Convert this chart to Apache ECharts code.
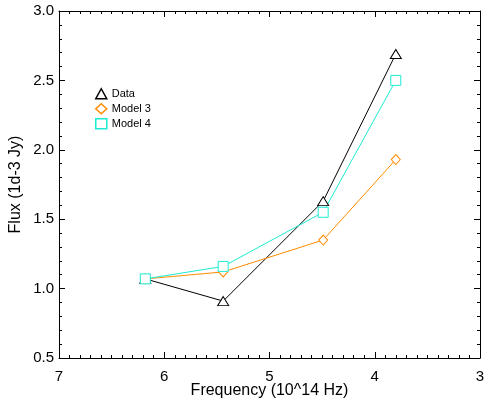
<!DOCTYPE html>
<html>
<head>
<meta charset="utf-8">
<script src="https://cdn.jsdelivr.net/npm/echarts@6/dist/echarts.min.js"></script>
<style>
  html, body { margin: 0; padding: 0; background: #fff; }
  #main { width: 486px; height: 401px; }
</style>
</head>
<body>
<div id="main"></div>
<script>
// frequencies (10^14 Hz)
const freq = [6.18, 5.44, 4.49, 3.80];
const fluxData = [1.07, 0.91, 1.63, 2.69];
const fluxModel3 = [1.07, 1.12, 1.35, 1.93];
const fluxModel4 = [1.07, 1.16, 1.55, 2.50];

const FONT = 'Liberation Sans, Arial, Helvetica, sans-serif';
const cData = '#000000';
const cM3 = '#ff8c00';
const cM4 = '#1cecd2';

function pairs(ys) {
  return freq.map((f, i) => [f, ys[i]]);
}

function mkSeries(name, ys, color, symbol, size) {
  return {
    name: name,
    type: 'line',
    data: pairs(ys),
    symbol: symbol,
    symbolSize: size,
    showSymbol: true,
    lineStyle: { color: color, width: 1 },
    itemStyle: { color: '#fff', borderColor: color, borderWidth: 1 },
    emphasis: { disabled: true },
    animation: false
  };
}

const xBase = {
  type: 'value', min: 3, max: 7, interval: 1, inverse: true,
  axisLine: { show: true, lineStyle: { color: '#000', width: 1 } },
  axisTick: { show: true, inside: true, length: 6, lineStyle: { color: '#000' } },
  minorTick: { show: true, splitNumber: 10, length: 3, lineStyle: { color: '#000' } },
  splitLine: { show: false },
  minorSplitLine: { show: false }
};
const yBase = {
  type: 'value', min: 0.5, max: 3.0, interval: 0.5,
  axisLine: { show: true, lineStyle: { color: '#000', width: 1 } },
  axisTick: { show: true, inside: true, length: 6, lineStyle: { color: '#000' } },
  minorTick: { show: true, splitNumber: 5, length: 3, lineStyle: { color: '#000' } },
  splitLine: { show: false },
  minorSplitLine: { show: false }
};

const chart = echarts.init(document.getElementById('main'));
chart.setOption({
  backgroundColor: '#fff',
  textStyle: { fontFamily: FONT },
  grid: { left: 59, right: 6, top: 11, bottom: 43, outerBoundsMode: 'none', containLabel: false },
  xAxis: [
    Object.assign({}, xBase, {
      position: 'bottom',
      name: 'Frequency (10^14 Hz)',
      nameLocation: 'middle',
      nameGap: 25,
      nameMoveOverlap: false,
      nameTextStyle: { fontSize: 16, color: '#000', fontFamily: FONT },
      axisLabel: { show: true, fontSize: 15, color: '#000', margin: 11, fontFamily: FONT }
    }),
    Object.assign({}, xBase, { position: 'top', axisLabel: { show: false } })
  ],
  yAxis: [
    Object.assign({}, yBase, {
      position: 'left',
      name: 'Flux (1d-3 Jy)',
      nameLocation: 'middle',
      nameGap: 35,
      nameMoveOverlap: false,
      nameTextStyle: { fontSize: 16, color: '#000', fontFamily: FONT },
      axisLabel: { show: true, fontSize: 15, color: '#000', margin: 5, fontFamily: FONT,
        formatter: v => v.toFixed(1) }
    }),
    Object.assign({}, yBase, { position: 'right', axisLabel: { show: false } })
  ],
  legend: {
    orient: 'vertical',
    left: 95,
    top: 88,
    padding: 0,
    itemWidth: 11,
    itemHeight: 10,
    itemGap: 3.5,
    selectedMode: false,
    textStyle: { fontSize: 11, color: '#000', fontFamily: FONT, padding: [0, 0, 3, 0] },
    data: [
      { name: 'Data', icon: 'triangle', itemStyle: { color: '#fff', borderColor: cData, borderWidth: 1.5 } },
      { name: 'Model 3', icon: 'diamond', itemStyle: { color: '#fff', borderColor: cM3, borderWidth: 1.5 } },
      { name: 'Model 4', icon: 'rect', itemStyle: { color: '#fff', borderColor: cM4, borderWidth: 1.5 } }
    ]
  },
  series: [
    mkSeries('Data', fluxData, cData, 'triangle', [11, 9]),
    mkSeries('Model 3', fluxModel3, cM3, 'diamond', [9, 10]),
    mkSeries('Model 4', fluxModel4, cM4, 'rect', [10, 10])
  ]
});
</script>
</body>
</html>
